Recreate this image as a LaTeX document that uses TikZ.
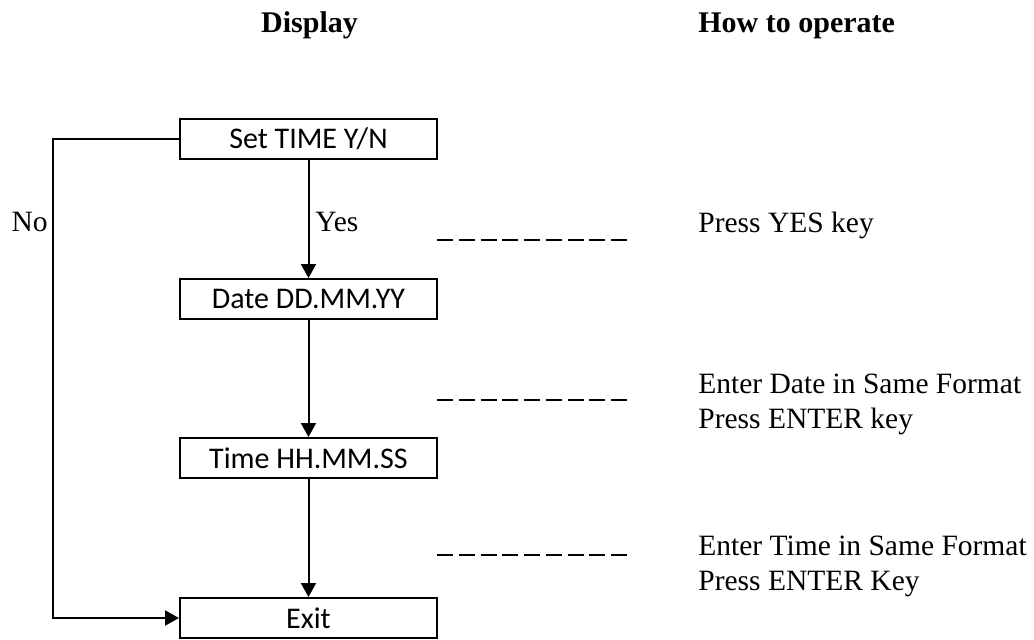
\documentclass[tikz,border=0pt]{standalone}
\usepackage{fontspec}
\setmainfont{Liberation Serif}
\newfontfamily\boxfont{Carlito}
\usetikzlibrary{arrows.meta}
\begin{document}
\begin{tikzpicture}[x=0.5pt,y=-0.5pt,
	box/.style={draw, line width=1pt, minimum width=128.5pt, minimum height=20pt, inner sep=0pt, font=\boxfont\fontsize{15}{17}\selectfont},
	hint/.style={anchor=base west, align=left, inner sep=0pt, font=\fontsize{14.75}{17.5}\selectfont},
	head/.style={anchor=base, inner sep=0pt, font=\bfseries\fontsize{15}{18}\selectfont},
	flow/.style={line width=1pt, -{Triangle[length=7pt,width=7.5pt]}}]
	\useasboundingbox (0,0) rectangle (1034,639);
	\node[head] (display) at (309.5,32) {Display};
	\node[head, anchor=base west] (howto) at (698,32) {How to operate};
	\node[box] (settime) at (308.5,139) {Set TIME Y/N};
	\node[box] (date) at (308.5,299) {Date DD.MM.YY};
	\node[box] (time) at (308.5,458) {Time HH.MM.SS};
	\node[box] (exit) at (308.5,618) {Exit};
	\coordinate (loop) at (53,378);
	\draw[flow] (settime) -- (date);
	\draw[flow] (date) -- (time);
	\draw[flow] (time) -- (exit);
	\draw[flow] (settime.west) -| (loop) |- (exit.west);
	\node[hint] (yes) at (315,231) {Yes};
	\node[hint, anchor=base east] (no) at (48,231) {No};
	\draw[line width=1pt, dash pattern=on 8pt off 2.875pt] (437,240) -- (627,240);
	\draw[line width=1pt, dash pattern=on 8pt off 2.875pt] (437,400) -- (627,400);
	\draw[line width=1pt, dash pattern=on 8pt off 2.875pt] (437,555) -- (627,555);
	\node[hint] (yeskey) at (698,232) {Press YES key};
	\node[hint] (datekey) at (698,428) {Enter Date in Same Format\\Press ENTER key};
	\node[hint] (timekey) at (698,590) {Enter Time in Same Format\\Press ENTER Key};
\end{tikzpicture}
\end{document}
